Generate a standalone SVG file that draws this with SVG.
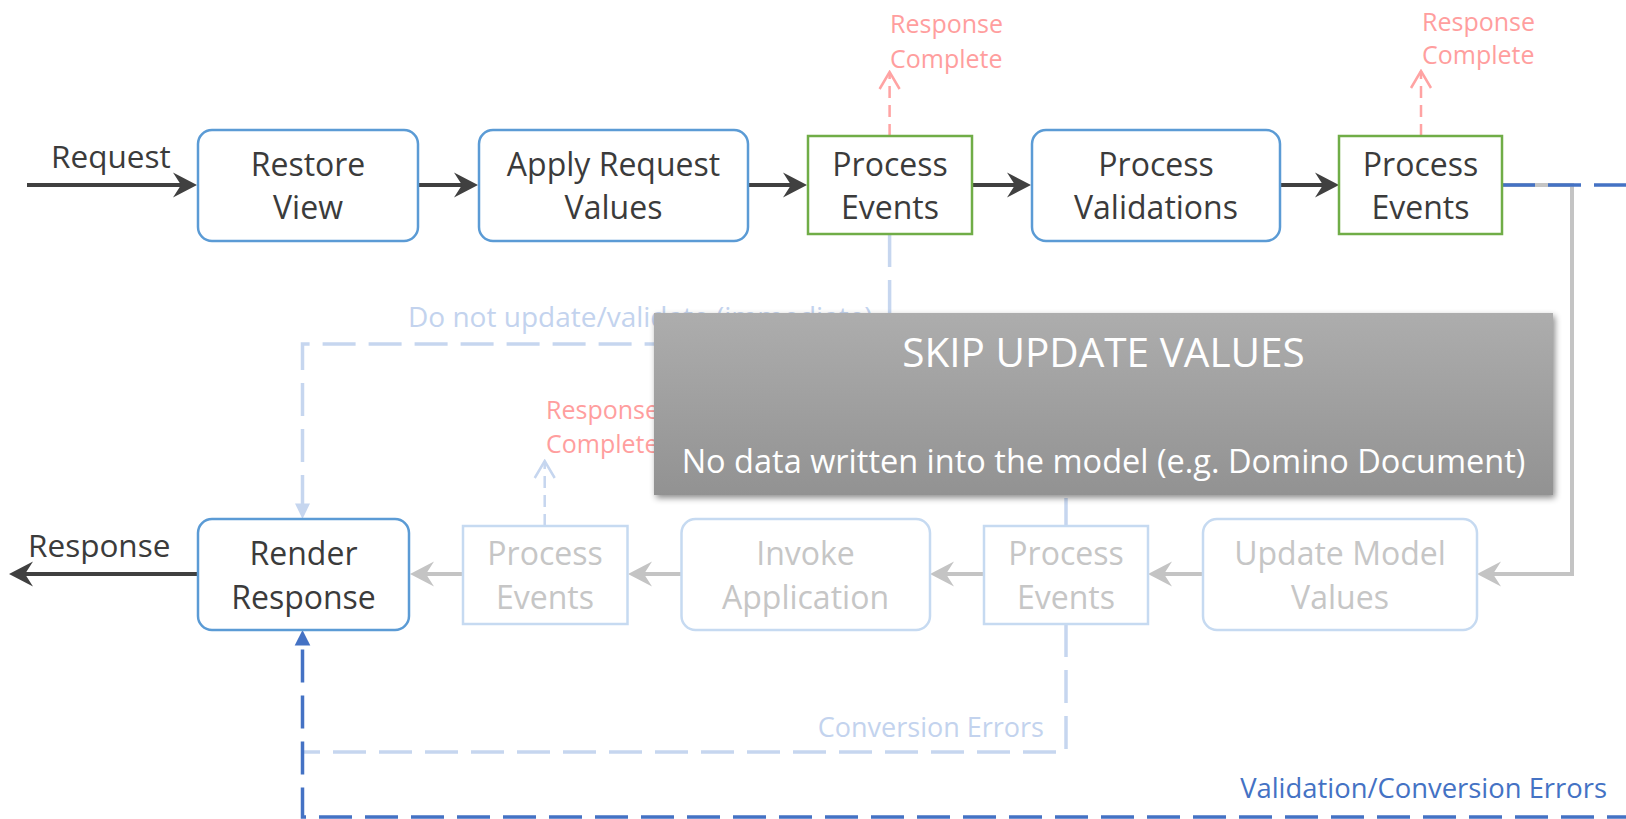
<svg xmlns="http://www.w3.org/2000/svg" width="1626" height="819" viewBox="0 0 1626 819">
<style>
text{font-family:"Open Sans","Noto Sans","Liberation Sans",sans-serif;}
.node{fill:#fff;stroke:#5b9bd5;stroke-width:2.5;}
.evt{fill:#fff;stroke:#70ad47;stroke-width:2.5;}
.fade{fill:#fff;stroke:#c6daf1;stroke-width:2.5;}
.nt{font-size:32px;fill:#3b3b3b;text-anchor:middle;}
.ft{font-size:32px;fill:#c6c6c6;text-anchor:middle;}
.lbl{font-size:31.5px;fill:#3b3b3b;}
.dark{fill:none;stroke:#404040;stroke-width:4;}
.gray{fill:none;stroke:#c4c4c4;stroke-width:4;}
.blue{fill:none;stroke:#4472c4;stroke-width:3.5;stroke-dasharray:33 13;}
.lblue{fill:none;stroke:#c6d6ef;stroke-width:3.5;stroke-dasharray:33 13;}
.pink{fill:none;stroke:#ffa3a3;stroke-width:2.5;stroke-dasharray:12 7;}
.lbsm{fill:none;stroke:#c6d6ef;stroke-width:2.5;stroke-dasharray:12 7;}
.rc{font-size:25px;fill:#ff9e9e;}
.bt{font-size:27px;}
</style>
<defs>
<marker id="stD" viewBox="-26 -14 28 28" refX="-14" refY="0" markerWidth="28" markerHeight="28" orient="auto" markerUnits="userSpaceOnUse"><path d="M0,0 L-24,-12.5 L-16,0 L-24,12.5 Z" fill="#404040"/></marker>
<marker id="stG" viewBox="-26 -14 28 28" refX="-14" refY="0" markerWidth="28" markerHeight="28" orient="auto" markerUnits="userSpaceOnUse"><path d="M0,0 L-24,-12.5 L-16,0 L-24,12.5 Z" fill="#c4c4c4"/></marker>
<marker id="triB" viewBox="-17 -9 18 18" refX="-10" refY="0" markerWidth="18" markerHeight="18" orient="auto" markerUnits="userSpaceOnUse"><path d="M0,0 L-15.5,-7.8 L-15.5,7.8 Z" fill="#4472c4"/></marker>
<marker id="triL" viewBox="-17 -9 18 18" refX="-10" refY="0" markerWidth="18" markerHeight="18" orient="auto" markerUnits="userSpaceOnUse"><path d="M0,0 L-15.5,-7.5 L-15.5,7.5 Z" fill="#c6d6ef"/></marker>
<marker id="vP" viewBox="-20 -12 22 24" refX="0" refY="0" markerWidth="22" markerHeight="24" orient="auto" markerUnits="userSpaceOnUse"><path d="M-17,-10 L0,0 L-17,10" fill="none" stroke="#ffa3a3" stroke-width="2.5"/></marker>
<marker id="vL" viewBox="-20 -12 22 24" refX="0" refY="0" markerWidth="22" markerHeight="24" orient="auto" markerUnits="userSpaceOnUse"><path d="M-17,-10 L0,0 L-17,10" fill="none" stroke="#c6d6ef" stroke-width="2.5"/></marker>
<linearGradient id="ovg" x1="0" y1="0" x2="0" y2="1"><stop offset="0" stop-color="#adadad"/><stop offset="1" stop-color="#929292"/></linearGradient>
<filter id="sh" x="-5%" y="-10%" width="110%" height="125%"><feDropShadow dx="2" dy="3" stdDeviation="3" flood-color="#000" flood-opacity="0.45"/></filter>
</defs>

<g id="connectors">
<path class="lblue" d="M889.6,234 V344 H302.5 V509" marker-end="url(#triL)"/>
<path class="lblue" d="M1066,624 V752 H302.5"/>
<path class="lblue" d="M1066,526 V480" style="stroke-dasharray:28 13"/>
<path class="lbsm" d="M544.7,526 V461" marker-end="url(#vL)"/>
<path class="pink" d="M889.6,136 V72" marker-end="url(#vP)"/>
<path class="pink" d="M1421,136 V71" marker-end="url(#vP)"/>
<path class="dark" d="M27,185 H183" marker-end="url(#stD)"/>
<path class="dark" d="M418,185 H464" marker-end="url(#stD)"/>
<path class="dark" d="M748,185 H793" marker-end="url(#stD)"/>
<path class="dark" d="M972,185 H1017" marker-end="url(#stD)"/>
<path class="dark" d="M1280,185 H1325" marker-end="url(#stD)"/>
<path class="dark" d="M198,574 H23" marker-end="url(#stD)"/>
<path class="gray" d="M463,574 H424" marker-end="url(#stG)"/>
<path class="gray" d="M681.5,574 H642" marker-end="url(#stG)"/>
<path class="gray" d="M984,574 H944" marker-end="url(#stG)"/>
<path class="gray" d="M1203,574 H1162" marker-end="url(#stG)"/>
<path class="gray" d="M1502,185 H1572 V574 H1491" marker-end="url(#stG)"/>
<path class="blue" d="M1502,185 H1640"/>
<path class="blue" d="M1640,817 H302.5 V640" marker-end="url(#triB)"/>
</g>

<g id="restore-view"><rect class="node" x="198" y="130" width="220" height="111" rx="14"/><text class="nt" x="308" y="176">Restore</text><text class="nt" x="308" y="219">View</text></g>
<g id="apply-request-values"><rect class="node" x="479" y="130" width="269" height="111" rx="14"/><text class="nt" x="613.5" y="176">Apply Request</text><text class="nt" x="613.5" y="219">Values</text></g>
<g id="process-events-1"><rect class="evt" x="808" y="136" width="164" height="98"/><text class="nt" x="890" y="176">Process</text><text class="nt" x="890" y="219">Events</text></g>
<g id="process-validations"><rect class="node" x="1032" y="130" width="248" height="111" rx="14"/><text class="nt" x="1156" y="176">Process</text><text class="nt" x="1156" y="219">Validations</text></g>
<g id="process-events-2"><rect class="evt" x="1339" y="136" width="163" height="98"/><text class="nt" x="1420.5" y="176">Process</text><text class="nt" x="1420.5" y="219">Events</text></g>

<g id="render-response"><rect class="node" x="198" y="519" width="211" height="111" rx="14"/><text class="nt" x="303.5" y="565">Render</text><text class="nt" x="303.5" y="609">Response</text></g>
<g id="process-events-3"><rect class="fade" x="463" y="526" width="164.5" height="98"/><text class="ft" x="545" y="565">Process</text><text class="ft" x="545" y="609">Events</text></g>
<g id="invoke-application"><rect class="fade" x="681.5" y="519" width="248.5" height="111" rx="14"/><text class="ft" x="805.5" y="565">Invoke</text><text class="ft" x="805.5" y="609">Application</text></g>
<g id="process-events-4"><rect class="fade" x="984" y="526" width="164" height="98"/><text class="ft" x="1066" y="565">Process</text><text class="ft" x="1066" y="609">Events</text></g>
<g id="update-model-values"><rect class="fade" x="1203" y="519" width="274" height="111" rx="14"/><text class="ft" x="1340" y="565">Update Model</text><text class="ft" x="1340" y="609">Values</text></g>

<g id="labels">
<text class="lbl" x="51" y="168">Request</text>
<text class="lbl" x="28" y="557">Response</text>
<text class="rc" x="890" y="33">Response</text><text class="rc" x="890" y="68">Complete</text>
<text class="rc" x="1422" y="30.5">Response</text><text class="rc" x="1422" y="64">Complete</text>
<text class="rc" x="546" y="419">Response</text><text class="rc" x="546" y="453">Complete</text>
<text class="bt" x="408" y="327" fill="#c3d3ee" style="font-size:28px">Do not update/validate (immediate)</text>
<text class="bt" x="1044" y="737" fill="#c3d3ee" text-anchor="end">Conversion Errors</text>
<text class="bt" x="1607" y="798" fill="#4472c4" text-anchor="end" style="font-size:27.4px">Validation/Conversion Errors</text>
</g>

<g id="skip-update-values">
<rect x="654" y="313" width="899" height="182" fill="url(#ovg)" filter="url(#sh)"/>
<text x="1103.5" y="367" fill="#fff" text-anchor="middle" style="font-size:40.5px">SKIP UPDATE VALUES</text>
<text x="1103.5" y="473" fill="#fff" text-anchor="middle" style="font-size:32.5px">No data written into the model (e.g. Domino Document)</text>
</g>
</svg>
